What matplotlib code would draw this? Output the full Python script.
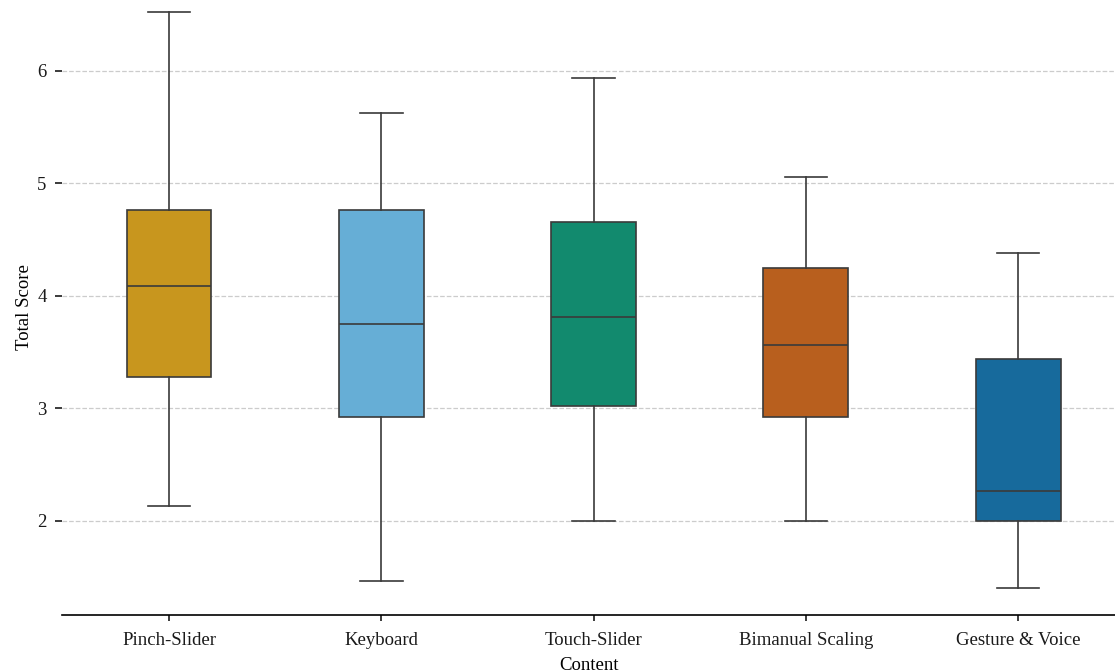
import matplotlib
matplotlib.use("Agg")
import matplotlib.pyplot as plt

# interaction techniques and their total-score summaries
techniques = ["Pinch-Slider", "Keyboard", "Touch-Slider", "Bimanual Scaling", "Gesture & Voice"]
whisker_low = [2.13, 1.47, 2.00, 2.00, 1.40]
q1 = [3.28, 2.92, 3.02, 2.92, 2.00]
median = [4.09, 3.75, 3.81, 3.56, 2.27]
q3 = [4.76, 4.76, 4.66, 4.25, 3.44]
whisker_high = [6.52, 5.63, 5.94, 5.06, 4.38]

box_colors = ["#c8961e", "#66aed6", "#128a6e", "#b85f1e", "#176a9c"]

plt.rcParams["font.family"] = ["Liberation Serif", "DejaVu Serif"]

fig = plt.figure(figsize=(11.15, 6.72), dpi=100)
ax = fig.add_axes([62 / 1115, (672 - 615) / 672, 1 - 62 / 1115, 615 / 672])

stats = []
for i, name in enumerate(techniques):
    stats.append({
        "label": name,
        "whislo": whisker_low[i],
        "q1": q1[i],
        "med": median[i],
        "q3": q3[i],
        "whishi": whisker_high[i],
        "fliers": [],
    })

line_col = "#3a3a3a"
bp = ax.bxp(
    stats,
    positions=range(len(techniques)),
    widths=0.4,
    patch_artist=True,
    showfliers=False,
    boxprops=dict(edgecolor=line_col, linewidth=1.2),
    medianprops=dict(color=line_col, linewidth=1.2),
    whiskerprops=dict(color=line_col, linewidth=1.2),
    capprops=dict(color=line_col, linewidth=1.2),
    capwidths=0.2,
    zorder=3,
)
for patch, c in zip(bp["boxes"], box_colors):
    patch.set_facecolor(c)

ax.set_xlim(-0.504, 4.456)
ax.set_ylim(1.164, 6.631)
ax.set_yticks([2, 3, 4, 5, 6])
ax.set_xticks(range(len(techniques)))
ax.set_xticklabels(techniques)

ax.yaxis.grid(True, linestyle="--", color="#cccccc", linewidth=0.9, zorder=0)
ax.set_axisbelow(True)

for side in ["top", "right", "left"]:
    ax.spines[side].set_visible(False)
ax.spines["bottom"].set_linewidth(1.2)
ax.tick_params(axis="both", labelsize=13.5, colors="#1a1a1a", width=1.2)
ax.tick_params(axis="y", length=5, pad=6)
ax.tick_params(axis="x", length=4, pad=8)

ax.set_xlabel("Content", fontsize=13.5, labelpad=6)
ax.set_ylabel("Total Score", fontsize=13.5, labelpad=3)

fig.savefig("out.png", dpi=100)
